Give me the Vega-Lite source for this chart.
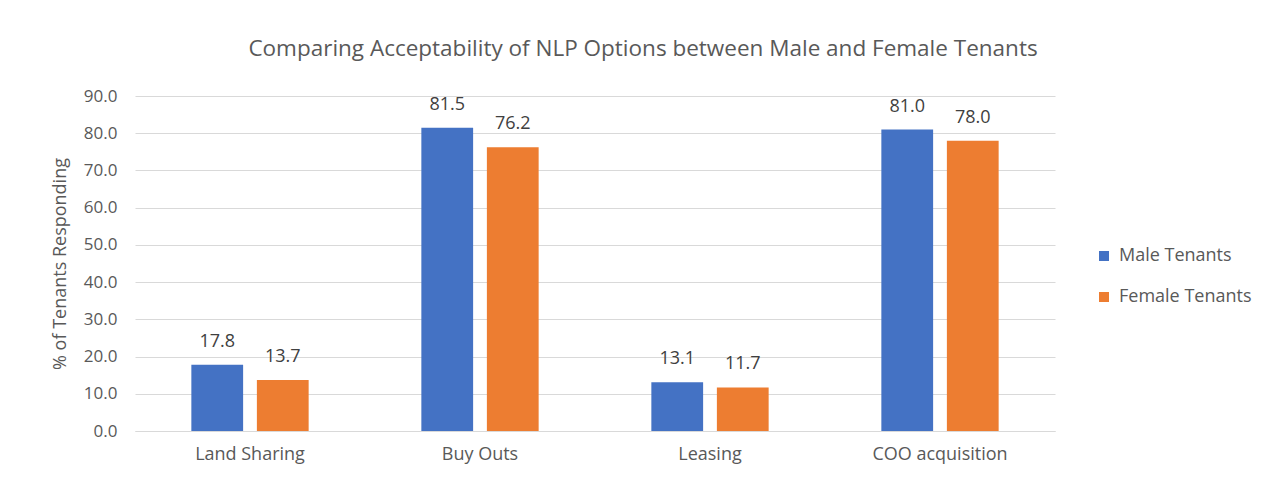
{
  "$schema": "https://vega.github.io/schema/vega-lite/v6.json",
  "autosize": {"type": "none"},
  "padding": {"left": 135, "top": 96, "right": 209, "bottom": 46},
  "width": 920,
  "height": 335,
  "background": "white",
  "config": {
    "font": "Open Sans",
    "view": {"stroke": null}
  },
  "title": {
    "text": "Comparing Acceptability of NLP Options between Male and Female Tenants",
    "fontSize": 22.5,
    "fontWeight": "normal",
    "color": "#595959",
    "anchor": "middle",
    "dx": 48,
    "offset": 27
  },
  "data": {
    "values": [
      {"option": "Land Sharing", "group": "Male Tenants", "value": 17.8},
      {"option": "Land Sharing", "group": "Female Tenants", "value": 13.7},
      {"option": "Buy Outs", "group": "Male Tenants", "value": 81.5},
      {"option": "Buy Outs", "group": "Female Tenants", "value": 76.2},
      {"option": "Leasing", "group": "Male Tenants", "value": 13.1},
      {"option": "Leasing", "group": "Female Tenants", "value": 11.7},
      {"option": "COO acquisition", "group": "Male Tenants", "value": 81.0},
      {"option": "COO acquisition", "group": "Female Tenants", "value": 78.0}
    ]
  },
  "encoding": {
    "x": {
      "field": "option",
      "type": "nominal",
      "sort": ["Land Sharing", "Buy Outs", "Leasing", "COO acquisition"],
      "scale": {"paddingInner": 0.49, "paddingOuter": 0.245},
      "axis": {
        "title": null,
        "labelAngle": 0,
        "labelFontSize": 18,
        "labelColor": "#595959",
        "labelPadding": 14,
        "ticks": false,
        "domainColor": "#d9d9d9"
      }
    },
    "xOffset": {
      "field": "group",
      "type": "nominal",
      "sort": ["Male Tenants", "Female Tenants"],
      "scale": {"paddingInner": 0.21, "paddingOuter": 0}
    },
    "y": {
      "field": "value",
      "type": "quantitative",
      "scale": {"domain": [0, 90], "nice": false},
      "axis": {
        "title": "% of Tenants Responding",
        "titleFontSize": 18,
        "titleFontWeight": "normal",
        "titleColor": "#595959",
        "titlePadding": 14,
        "values": [0, 10, 20, 30, 40, 50, 60, 70, 80, 90],
        "format": ".1f",
        "labelFontSize": 17,
        "labelColor": "#595959",
        "labelPadding": 18,
        "ticks": false,
        "domain": false,
        "gridColor": "#d9d9d9"
      }
    }
  },
  "layer": [
    {
      "mark": {"type": "bar"},
      "encoding": {
        "color": {
          "field": "group",
          "type": "nominal",
          "sort": ["Male Tenants", "Female Tenants"],
          "scale": {"domain": ["Male Tenants", "Female Tenants"], "range": ["#4472C4", "#ED7D31"]},
          "legend": {
            "title": null,
            "orient": "none",
            "legendX": 960,
            "legendY": 151,
            "symbolType": "square",
            "symbolSize": 100,
            "symbolStrokeWidth": 0,
            "labelFontSize": 18,
            "labelColor": "#595959",
            "rowPadding": 23,
            "labelOffset": 6
          }
        }
      }
    },
    {
      "mark": {"type": "text", "baseline": "bottom", "dy": -14, "fontSize": 18, "color": "#404040"},
      "encoding": {
        "text": {"field": "value", "type": "quantitative", "format": ".1f"}
      }
    }
  ]
}
